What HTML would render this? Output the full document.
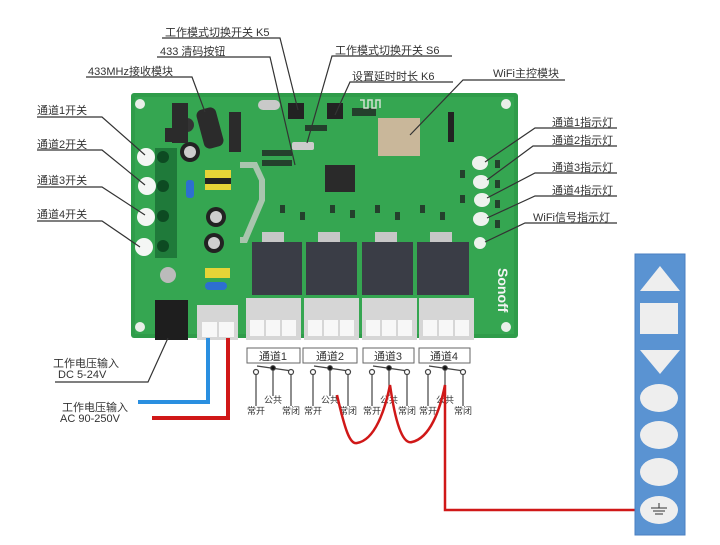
<!DOCTYPE html>
<html><head><meta charset="utf-8"><style>
html,body{margin:0;padding:0;background:#fff;}
svg{display:block;}
text{font-family:"Liberation Sans","Noto Sans CJK SC",sans-serif;fill:#333;}
</style></head><body>
<svg width="720" height="545" viewBox="0 0 720 545" xmlns="http://www.w3.org/2000/svg">
<!-- board -->
<rect x="131" y="93" width="387" height="245" rx="3" fill="#2f9c4a"/>
<rect x="135" y="97" width="379" height="237" fill="#35a651"/>
<g fill="#e9efe9"><circle cx="140" cy="104" r="5"/><circle cx="506" cy="104" r="5"/><circle cx="140" cy="327" r="5"/><circle cx="506" cy="327" r="5"/></g>
<!-- small smd parts -->
<g fill="#24402c">
<rect x="330" y="205" width="5" height="8"/><rect x="350" y="210" width="5" height="8"/><rect x="375" y="205" width="5" height="8"/><rect x="395" y="212" width="5" height="8"/>
<rect x="420" y="205" width="5" height="8"/><rect x="440" y="212" width="5" height="8"/><rect x="460" y="170" width="5" height="8"/><rect x="460" y="195" width="5" height="8"/>
<rect x="495" y="160" width="5" height="8"/><rect x="495" y="180" width="5" height="8"/><rect x="495" y="200" width="5" height="8"/><rect x="495" y="220" width="5" height="8"/>
<rect x="280" y="205" width="5" height="8"/><rect x="300" y="212" width="5" height="8"/><rect x="262" y="150" width="30" height="6"/><rect x="262" y="160" width="30" height="6"/>
<rect x="352" y="108" width="24" height="8"/><rect x="305" y="125" width="22" height="6"/>
</g>
<!-- left switches -->
<rect x="155" y="148" width="22" height="110" fill="#1f7a3a"/>
<g fill="#0d4a22"><circle cx="163" cy="157" r="6"/><circle cx="163" cy="186" r="6"/><circle cx="163" cy="216" r="6"/><circle cx="163" cy="246" r="6"/></g>
<g fill="#f4f6f4"><circle cx="146" cy="157" r="9"/><circle cx="147" cy="186" r="9"/><circle cx="146" cy="217" r="9"/><circle cx="144" cy="247" r="9"/></g>
<!-- components -->
<rect x="200" y="108" width="20" height="40" rx="6" fill="#2b2b2b" transform="rotate(-15 210 128)"/>
<rect x="165" y="128" width="14" height="14" fill="#2b2b2b"/>
<circle cx="187" cy="125" r="7" fill="#333"/>
<circle cx="190" cy="152" r="10" fill="#222"/><circle cx="190" cy="152" r="6" fill="#ccc"/>
<rect x="205" y="170" width="26" height="20" fill="#e6d437"/><rect x="205" y="178" width="26" height="6" fill="#222"/>
<rect x="186" y="180" width="8" height="18" rx="3" fill="#2d6fd0"/>
<circle cx="216" cy="217" r="10" fill="#222"/><circle cx="216" cy="217" r="6" fill="#cfcfcf"/>
<circle cx="214" cy="243" r="10" fill="#222"/><circle cx="214" cy="243" r="6" fill="#cfcfcf"/>
<circle cx="168" cy="275" r="8" fill="#bbb"/>
<rect x="205" y="268" width="25" height="10" fill="#e6d437"/><rect x="205" y="282" width="22" height="8" rx="4" fill="#2d6fd0"/>
<rect x="172" y="103" width="16" height="40" fill="#2b2b2b"/>
<rect x="229" y="112" width="12" height="40" fill="#2b2b2b"/>
<path d="M240 165 L255 165 L262 180 L262 200 L245 240 L240 240" fill="none" stroke="#a9c5ae" stroke-width="6"/>
<rect x="258" y="100" width="22" height="10" rx="5" fill="#c9c9c9"/>
<rect x="288" y="103" width="16" height="16" fill="#222"/>
<rect x="327" y="103" width="16" height="16" fill="#222"/>
<rect x="292" y="142" width="22" height="8" rx="2" fill="#ccc"/>
<rect x="325" y="165" width="30" height="27" fill="#2a2a2a"/>
<rect x="378" y="118" width="42" height="38" fill="#c9b79a"/>
<path d="M360 100 h4 v8 h4 v-8 h4 v8 h4 v-8 h4 v8" fill="none" stroke="#cfe0cf" stroke-width="1.5"/>
<rect x="448" y="112" width="6" height="30" fill="#222"/>
<!-- LEDs -->
<g fill="#eef2ee"><ellipse cx="480" cy="163" rx="8" ry="7"/><ellipse cx="481" cy="182" rx="8" ry="7"/><ellipse cx="482" cy="200" rx="8" ry="7"/><ellipse cx="481" cy="219" rx="8" ry="7"/><ellipse cx="480" cy="243" rx="6" ry="6"/></g>
<text x="0" y="0" transform="translate(498 268) rotate(90)" font-size="14" font-weight="bold" style="fill:#f4f4f4">Sonoff</text>
<!-- relays -->
<g fill="#3a3d46">
<rect x="252" y="242" width="50" height="53"/><rect x="306" y="242" width="51" height="53"/>
<rect x="362" y="242" width="51" height="53"/><rect x="417" y="242" width="52" height="53"/></g>
<g fill="#c7c7c7"><rect x="262" y="232" width="22" height="10"/><rect x="318" y="232" width="22" height="10"/><rect x="375" y="232" width="22" height="10"/><rect x="430" y="232" width="22" height="10"/></g>
<!-- terminals -->
<g fill="#d6d6d6">
<rect x="246" y="298" width="55" height="42"/><rect x="304" y="298" width="55" height="42"/>
<rect x="362" y="298" width="55" height="42"/><rect x="419" y="298" width="55" height="42"/>
<rect x="197" y="305" width="41" height="35"/></g>
<g fill="#f7f7f7">
<rect x="250" y="320" width="14" height="16"/><rect x="266" y="320" width="14" height="16"/><rect x="282" y="320" width="14" height="16"/>
<rect x="308" y="320" width="14" height="16"/><rect x="324" y="320" width="14" height="16"/><rect x="340" y="320" width="14" height="16"/>
<rect x="366" y="320" width="14" height="16"/><rect x="382" y="320" width="14" height="16"/><rect x="398" y="320" width="14" height="16"/>
<rect x="423" y="320" width="14" height="16"/><rect x="439" y="320" width="14" height="16"/><rect x="455" y="320" width="14" height="16"/>
<rect x="202" y="322" width="15" height="15"/><rect x="219" y="322" width="15" height="15"/></g>
<rect x="155" y="300" width="33" height="40" fill="#1e1e1e"/>
<!-- leader lines -->
<g fill="none" stroke="#333" stroke-width="1.2">
<path d="M162 38 H280 L298 110"/><path d="M157 57 H270 L295 165"/><path d="M86 77 H192 L205 112"/>
<path d="M452 56 H332 L307 143"/><path d="M453 82 H350 L335 115"/><path d="M565 80 H463 L410 135"/>
<path d="M37 117 H102 L145 155"/><path d="M37 150 H102 L145 185"/><path d="M37 187 H102 L145 215"/><path d="M37 221 H102 L140 247"/>
<path d="M617 128 H535 L485 162"/><path d="M617 146 H533 L487 180"/><path d="M617 173 H535 L487 198"/><path d="M617 196 H535 L487 218"/><path d="M617 223 H525 L485 242"/>
<path d="M55 382 H148 L168 338"/>
</g>
<g font-size="11">
<text x="165" y="36">工作模式切换开关 K5</text>
<text x="160" y="55">433 清码按钮</text>
<text x="88" y="75">433MHz接收模块</text>
<text x="335" y="54">工作模式切换开关 S6</text>
<text x="352" y="80">设置延时时长 K6</text>
<text x="493" y="77">WiFi主控模块</text>
<text x="37" y="114">通道1开关</text><text x="37" y="148">通道2开关</text><text x="37" y="184">通道3开关</text><text x="37" y="218">通道4开关</text>
<text x="552" y="126">通道1指示灯</text><text x="552" y="144">通道2指示灯</text><text x="552" y="171">通道3指示灯</text><text x="552" y="194">通道4指示灯</text><text x="533" y="221">WiFi信号指示灯</text>
<text x="53" y="367">工作电压输入</text><text x="58" y="378">DC 5-24V</text>
<text x="62" y="411">工作电压输入</text><text x="60" y="422">AC 90-250V</text>
</g>
<!-- power wires -->
<path d="M208 338 V402 H138" fill="none" stroke="#2a8fe0" stroke-width="4"/>
<path d="M228 338 V418 H152" fill="none" stroke="#d01818" stroke-width="4"/>
<!-- channel boxes -->
<g fill="#fff" stroke="#666" stroke-width="1">
<rect x="247" y="348" width="53" height="15"/><rect x="303" y="348" width="54" height="15"/><rect x="363" y="348" width="51" height="15"/><rect x="419" y="348" width="51" height="15"/></g>
<g font-size="11" text-anchor="middle"><text x="273" y="360">通道1</text><text x="330" y="360">通道2</text><text x="388" y="360">通道3</text><text x="444" y="360">通道4</text></g>
<!-- contacts -->
<g id="c" stroke="#444" stroke-width="1.2" fill="#fff">
<path d="M257 366 L292 371" fill="none"/>
<line x1="256" y1="374" x2="256" y2="406"/><line x1="273" y1="368" x2="273" y2="396"/><line x1="291" y1="374" x2="291" y2="406"/>
<circle cx="256" cy="372" r="2.5"/><circle cx="291" cy="372" r="2.5"/><circle cx="273" cy="368" r="2.3" fill="#111"/>
</g>
<use href="#c" x="57"/><use href="#c" x="116"/><use href="#c" x="172"/>
<g font-size="9" text-anchor="middle">
<text x="273" y="403">公共</text><text x="256" y="414">常开</text><text x="291" y="414">常闭</text>
<text x="330" y="403">公共</text><text x="313" y="414">常开</text><text x="348" y="414">常闭</text>
<text x="389" y="403">公共</text><text x="372" y="414">常开</text><text x="407" y="414">常闭</text>
<text x="445" y="403">公共</text><text x="428" y="414">常开</text><text x="463" y="414">常闭</text>
</g>
<!-- red jumper wires -->
<path d="M337 395 C345 430 350 445 357 443 C375 440 385 410 390 385 C395 420 402 445 412 442 C430 438 440 410 445 385 V510 H640" fill="none" stroke="#d01818" stroke-width="2.5"/>
<!-- relay panel -->
<rect x="635" y="254" width="50" height="281" fill="#5a93d2" stroke="#4a7fc1"/>
<g fill="#eeeeee">
<polygon points="660,266 680,291 640,291"/>
<rect x="640" y="303" width="38" height="31"/>
<polygon points="640,350 680,350 660,374"/>
<ellipse cx="659" cy="398" rx="19" ry="14"/><ellipse cx="659" cy="435" rx="19" ry="14"/><ellipse cx="659" cy="472" rx="19" ry="14"/><ellipse cx="659" cy="510" rx="19" ry="14"/></g>
<g stroke="#333" stroke-width="1"><line x1="659" y1="503" x2="659" y2="508"/><line x1="651" y1="508" x2="667" y2="508"/><line x1="653" y1="511" x2="665" y2="511"/><line x1="655" y1="514" x2="663" y2="514"/></g>
</svg>
</body></html>
